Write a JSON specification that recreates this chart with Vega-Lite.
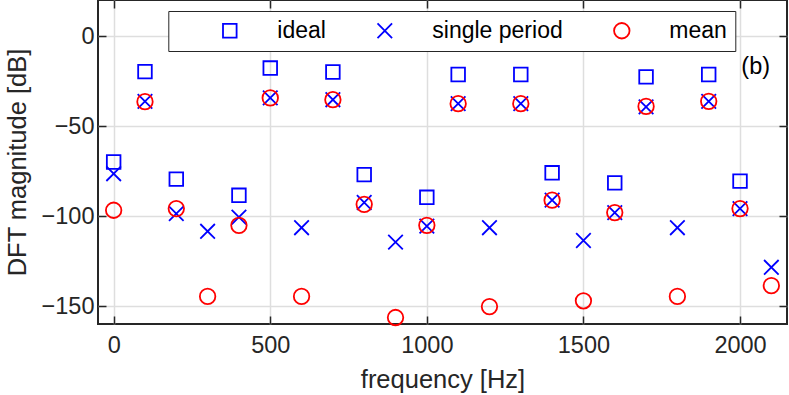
{
  "$schema": "https://vega.github.io/schema/vega-lite/v6.json",
  "width": 689,
  "height": 324,
  "autosize": {"type": "none"},
  "padding": {"left": 98, "top": 0, "right": 2, "bottom": 71},
  "background": "white",
  "config": {
    "font": "Liberation Sans",
    "view": {"stroke": "#262626", "strokeWidth": 2},
    "axis": {
      "labelFont": "Liberation Sans",
      "titleFont": "Liberation Sans",
      "labelColor": "#262626",
      "titleColor": "#262626",
      "titleFontWeight": "normal",
      "labelFontSize": 23.5,
      "titleFontSize": 25.5,
      "gridColor": "#dedede",
      "gridWidth": 1.5,
      "tickColor": "#262626",
      "tickWidth": 1.5,
      "domain": false
    }
  },
  "datasets": {
    "pts": [
      {"f": 0, "series": "ideal", "dB": -70},
      {"f": 100, "series": "ideal", "dB": -19.8},
      {"f": 200, "series": "ideal", "dB": -79.5},
      {"f": 400, "series": "ideal", "dB": -88.5},
      {"f": 500, "series": "ideal", "dB": -17.8},
      {"f": 700, "series": "ideal", "dB": -20},
      {"f": 800, "series": "ideal", "dB": -77},
      {"f": 1000, "series": "ideal", "dB": -89.6},
      {"f": 1100, "series": "ideal", "dB": -21.4},
      {"f": 1300, "series": "ideal", "dB": -21.4},
      {"f": 1400, "series": "ideal", "dB": -76},
      {"f": 1600, "series": "ideal", "dB": -81.6},
      {"f": 1700, "series": "ideal", "dB": -22.7},
      {"f": 1900, "series": "ideal", "dB": -21.4},
      {"f": 2000, "series": "ideal", "dB": -80.6},
      {"f": 0, "series": "single period", "dB": -76.5},
      {"f": 100, "series": "single period", "dB": -36.3},
      {"f": 200, "series": "single period", "dB": -98.7},
      {"f": 300, "series": "single period", "dB": -108.5},
      {"f": 400, "series": "single period", "dB": -100.6},
      {"f": 500, "series": "single period", "dB": -34.4},
      {"f": 600, "series": "single period", "dB": -106.5},
      {"f": 700, "series": "single period", "dB": -35.4},
      {"f": 800, "series": "single period", "dB": -92.5},
      {"f": 900, "series": "single period", "dB": -114.5},
      {"f": 1000, "series": "single period", "dB": -105.6},
      {"f": 1100, "series": "single period", "dB": -37.6},
      {"f": 1200, "series": "single period", "dB": -106.5},
      {"f": 1300, "series": "single period", "dB": -37.6},
      {"f": 1400, "series": "single period", "dB": -91.2},
      {"f": 1500, "series": "single period", "dB": -113.6},
      {"f": 1600, "series": "single period", "dB": -98.1},
      {"f": 1700, "series": "single period", "dB": -39.4},
      {"f": 1800, "series": "single period", "dB": -106.5},
      {"f": 1900, "series": "single period", "dB": -36.3},
      {"f": 2000, "series": "single period", "dB": -95.9},
      {"f": 2100, "series": "single period", "dB": -128.5},
      {"f": 0, "series": "mean", "dB": -96.8},
      {"f": 100, "series": "mean", "dB": -36.5},
      {"f": 200, "series": "mean", "dB": -95.9},
      {"f": 300, "series": "mean", "dB": -144.7},
      {"f": 400, "series": "mean", "dB": -105.2},
      {"f": 500, "series": "mean", "dB": -34.4},
      {"f": 600, "series": "mean", "dB": -144.7},
      {"f": 700, "series": "mean", "dB": -35.4},
      {"f": 800, "series": "mean", "dB": -93.5},
      {"f": 900, "series": "mean", "dB": -156.4},
      {"f": 1000, "series": "mean", "dB": -105.2},
      {"f": 1100, "series": "mean", "dB": -37.6},
      {"f": 1200, "series": "mean", "dB": -150.3},
      {"f": 1300, "series": "mean", "dB": -37.6},
      {"f": 1400, "series": "mean", "dB": -91.2},
      {"f": 1500, "series": "mean", "dB": -147.1},
      {"f": 1600, "series": "mean", "dB": -98.1},
      {"f": 1700, "series": "mean", "dB": -39.1},
      {"f": 1800, "series": "mean", "dB": -144.7},
      {"f": 1900, "series": "mean", "dB": -36.3},
      {"f": 2000, "series": "mean", "dB": -95.9},
      {"f": 2100, "series": "mean", "dB": -138.7}
    ],
    "ann": [{"f": 2050, "dB": -17, "label": "(b)"}]
  },
  "layer": [
    {
      "data": {"name": "pts"},
      "mark": {"type": "point", "filled": false, "strokeWidth": 1.8, "opacity": 1},
      "encoding": {
        "x": {
          "field": "f", "type": "quantitative",
          "scale": {"domain": [-50, 2150], "nice": false, "zero": false},
          "axis": {
            "orient": "bottom", "values": [0, 500, 1000, 1500, 2000], "format": "d",
            "grid": true, "ticks": true, "tickSize": -8, "labelPadding": 17,
            "title": "frequency [Hz]", "titleX": 344.5, "titleY": 63,
            "titleBaseline": "alphabetic", "titleAlign": "center", "titleAnchor": null
          }
        },
        "y": {
          "field": "dB", "type": "quantitative",
          "scale": {"domain": [-160, 20], "nice": false, "zero": false},
          "axis": {
            "orient": "left", "values": [-150, -100, -50, 0], "format": "d",
            "grid": true, "ticks": true, "tickSize": -8, "labelPadding": 12,
            "title": "DFT magnitude [dB]", "titleX": -73, "titleY": 162,
            "titleBaseline": "alphabetic", "titleAlign": "center", "titleAngle": -90, "titleAnchor": null
          }
        },
        "color": {
          "field": "series", "type": "nominal",
          "scale": {"domain": ["ideal", "single period", "mean"], "range": ["#0000ff", "#0000ff", "#ff0000"]},
          "legend": {
            "orient": "none", "legendX": 70.3, "legendY": 11,
            "direction": "horizontal", "columns": 3, "title": null,
            "padding": 8, "strokeColor": "#262626", "fillColor": "white",
            "labelFont": "Liberation Sans", "labelFontSize": 23, "labelColor": "#000000",
            "symbolOffset": 42, "labelOffset": 36, "columnPadding": 5,
            "symbolStrokeWidth": 1.8
          }
        },
        "shape": {
          "field": "series", "type": "nominal",
          "scale": {"domain": ["ideal", "single period", "mean"], "range": ["square", "M-1,-1L1,1M-1,1L1,-1", "circle"]}
        },
        "size": {
          "field": "series", "type": "nominal",
          "scale": {"domain": ["ideal", "single period", "mean"], "range": [185, 240, 250]}
        }
      }
    },
    {
      "data": {"name": "ann"},
      "mark": {"type": "text", "font": "Liberation Sans", "fontSize": 23.5, "color": "#000000", "align": "center", "baseline": "middle"},
      "encoding": {
        "x": {
          "field": "f", "type": "quantitative",
          "axis": {"orient": "top", "values": [0, 500, 1000, 1500, 2000], "labels": false, "grid": false, "ticks": true, "tickSize": -8, "title": null}
        },
        "y": {
          "field": "dB", "type": "quantitative",
          "axis": {"orient": "right", "values": [-150, -100, -50, 0], "labels": false, "grid": false, "ticks": true, "tickSize": -8, "title": null}
        },
        "text": {"field": "label"}
      }
    }
  ],
  "resolve": {"axis": {"x": "independent", "y": "independent"}}
}
